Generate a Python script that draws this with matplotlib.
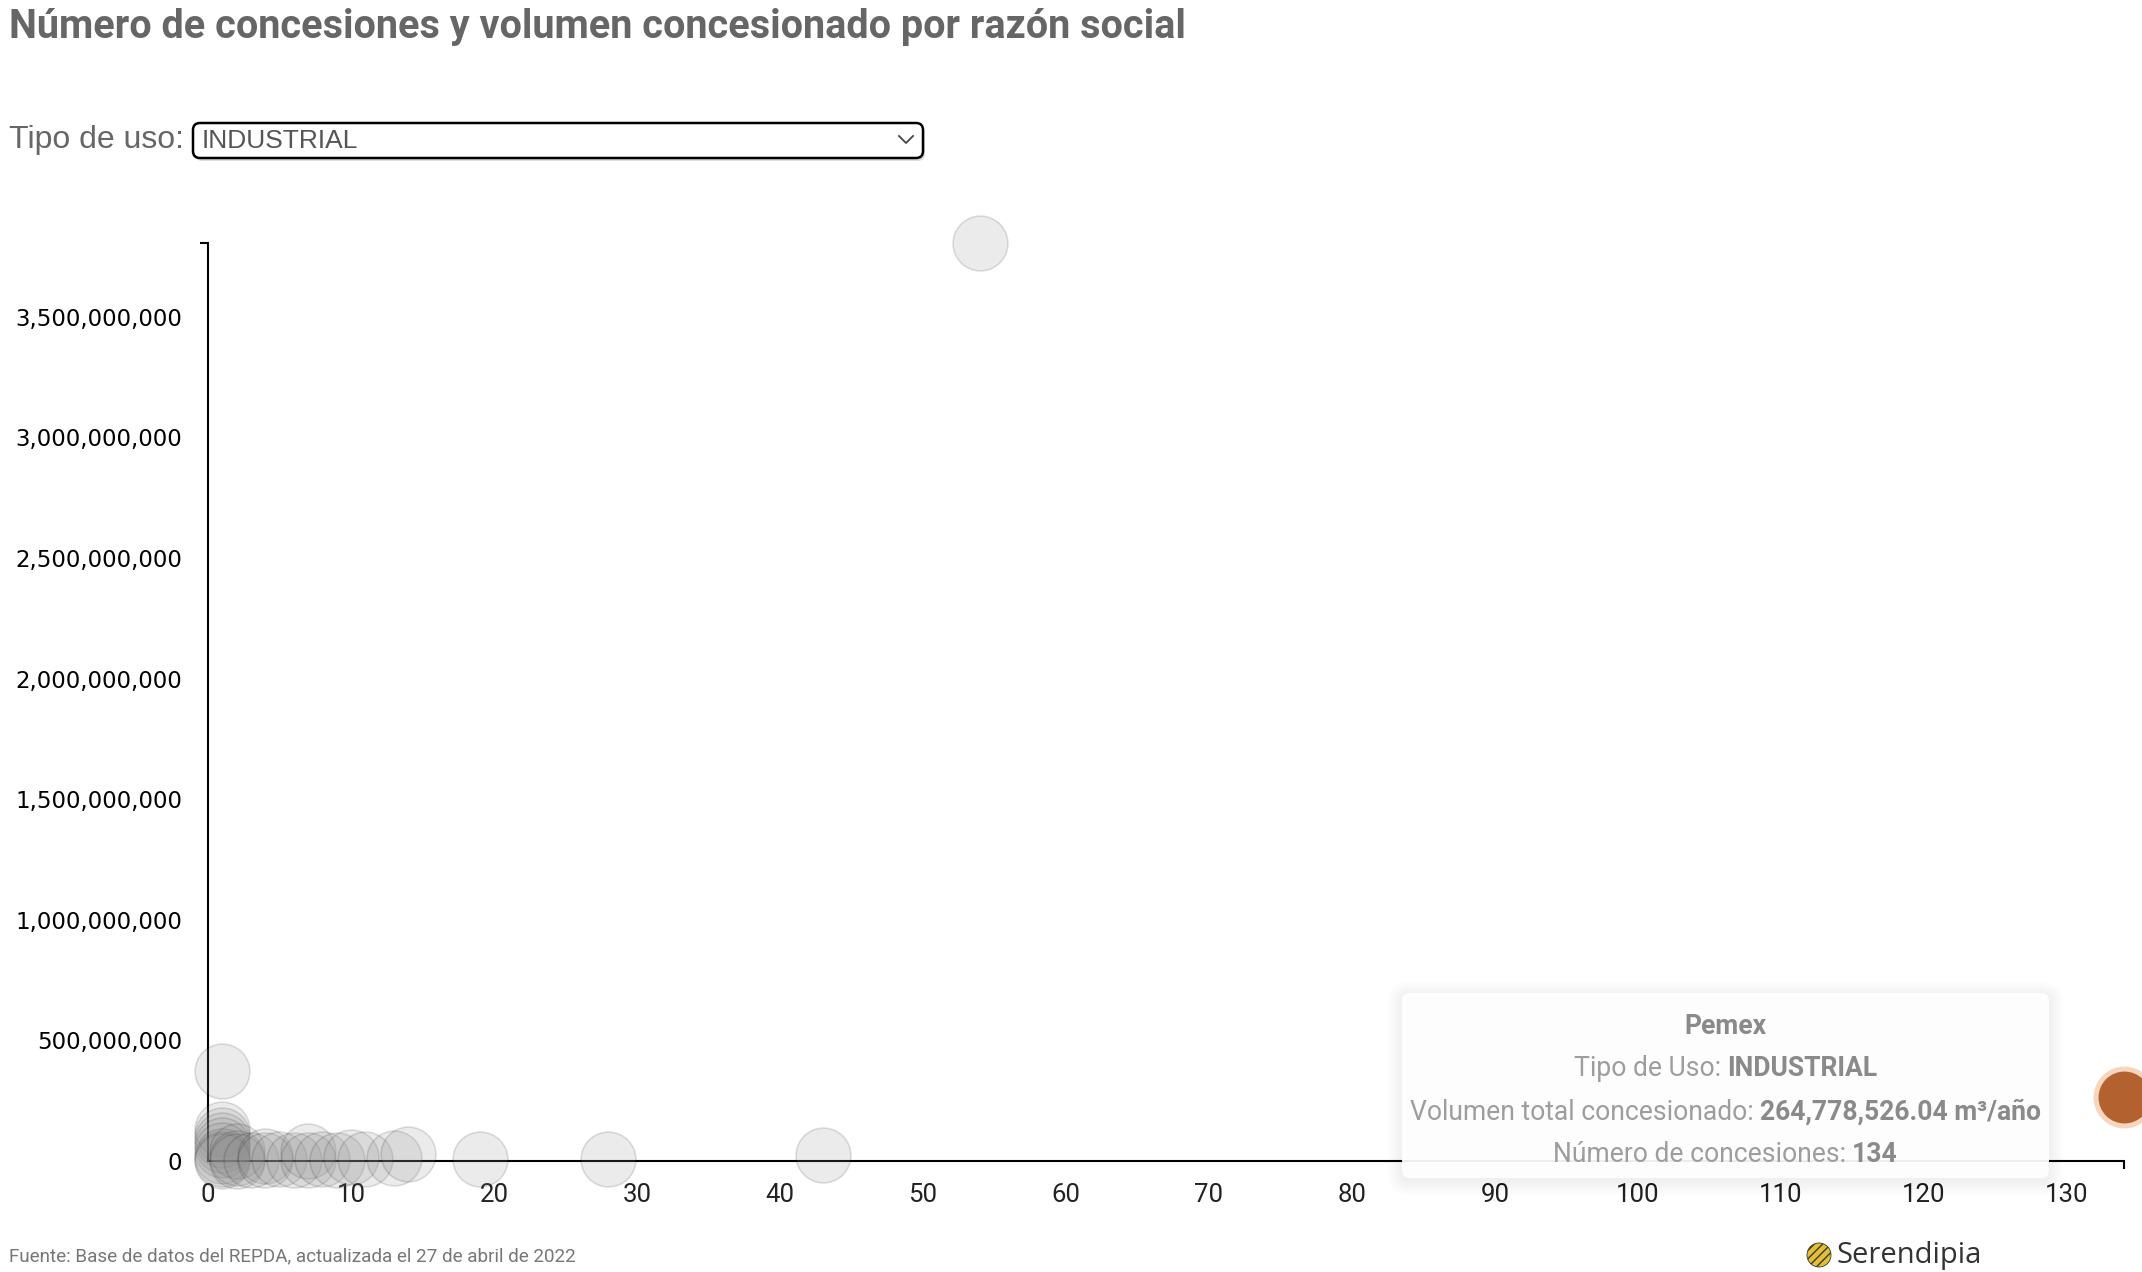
import matplotlib.pyplot as plt
from matplotlib.patches import FancyBboxPatch, Circle

W, H = 2142, 1272
DPI = 100

# ------------------------------------------------
# Data
# ------------------------------------------------
concesiones = [54, 1, 1, 1, 1, 1, 1, 1, 1, 1,
               2, 2, 2, 3, 4, 4, 5, 6, 7, 7, 8, 9,
               10, 11, 13, 14, 19, 28, 43]
volumen = [3806e6, 373e6, 131e6, 108e6, 88e6, 68e6, 45e6, 22e6, 8e6, 1e6,
           40e6, 12e6, 2e6, 6e6, 20e6, 3e6, 8e6, 4e6, 41e6, 5e6, 8e6, 3e6,
           16e6, 8e6, 14e6, 28e6, 7e6, 10e6, 25e6]

sel_nombre = "Pemex"
sel_uso = "INDUSTRIAL"
sel_concesiones = 134
sel_volumen = 264778526.04

x_ticks = [0, 10, 20, 30, 40, 50, 60, 70, 80, 90, 100, 110, 120, 130]
y_ticks = [0, 500e6, 1000e6, 1500e6, 2000e6, 2500e6, 3000e6, 3500e6]

NARROW = ["Roboto", "DejaVu Sans"]
ARIAL = ["Liberation Sans", "DejaVu Sans"]

fig = plt.figure(figsize=(W / DPI, H / DPI), dpi=DPI)

# ------------------------------------------------
# Main scatter axes
# ------------------------------------------------
ax_l, ax_r, ax_t, ax_b = 208, 2124, 243, 1161
ax = fig.add_axes([ax_l / W, 1 - ax_b / H, (ax_r - ax_l) / W, (ax_b - ax_t) / H])

xmax = max(concesiones + [sel_concesiones])
ymax = max(volumen + [sel_volumen])

ax.scatter(concesiones, volumen, s=1560, facecolor=(0.55, 0.55, 0.55, 0.17),
           edgecolor=(0, 0, 0, 0.12), linewidth=1.2, zorder=3, clip_on=False)
ax.scatter([sel_concesiones], [sel_volumen], s=1680, facecolor="#b3612f",
           edgecolor="#f7d6bf", linewidth=3.6, zorder=4, clip_on=False)

ax.set_xlim(0, xmax)
ax.set_ylim(0, ymax)

for side in ["top", "right"]:
    ax.spines[side].set_visible(False)
for side in ["left", "bottom"]:
    ax.spines[side].set_linewidth(1.5)
    ax.spines[side].set_color("black")
    ax.spines[side].set_zorder(2)

ax.set_xticks(x_ticks)
ax.set_xticklabels([str(v) for v in x_ticks], family=NARROW, fontsize=18.5, color="#222")
ax.set_yticks(y_ticks)
ax.set_yticklabels([f"{v:,.0f}" for v in y_ticks], family="DejaVu Sans", fontsize=16.5, color="black")
ax.tick_params(axis="x", which="major", length=0, pad=16)
ax.tick_params(axis="y", which="major", length=0, pad=18.5)

# end stubs of the axis lines
ax.set_xticks([0, xmax], minor=True)
ax.set_yticks([0, ymax], minor=True)
ax.tick_params(which="minor", length=6, width=1.5, color="black", direction="out")
ax.patch.set_alpha(0)

# ------------------------------------------------
# Overlay in pixel coordinates for the page elements
# ------------------------------------------------
ov = fig.add_axes([0, 0, 1, 1], zorder=10)
ov.set_xlim(0, W)
ov.set_ylim(H, 0)
ov.axis("off")
ov.patch.set_alpha(0)

ov.text(9, 27, "Número de concesiones y volumen concesionado por razón social",
        family=NARROW, fontsize=28.5, fontweight="bold", color="#666", va="center", ha="left")

# dropdown
ov.text(9, 140, "Tipo de uso:", family=ARIAL, fontsize=23, color="#666", va="center", ha="left")
ov.add_patch(FancyBboxPatch((195, 126), 730, 35, boxstyle="round,pad=0,rounding_size=7",
                            fc="#bbbbbb", ec="none", alpha=0.5))
ov.add_patch(FancyBboxPatch((193, 123), 730, 35, boxstyle="round,pad=0,rounding_size=7",
                            fc="white", ec="black", lw=1.8))
ov.text(202, 141, sel_uso, family=ARIAL, fontsize=19, color="#555", va="center", ha="left")
ov.plot([899, 906, 913], [136, 143, 136], color="#444", lw=1.3)

# tooltip with soft shadow
tx0, ty0, tx1, ty1 = 1402, 993, 2049, 1178
for k in range(1, 16):
    ov.add_patch(FancyBboxPatch((tx0 - k, ty0 - k + 3), tx1 - tx0 + 2 * k, ty1 - ty0 + 2 * k,
                                boxstyle=f"round,pad=0,rounding_size={8 + k}",
                                fc="black", ec="none", alpha=0.005))
ov.add_patch(FancyBboxPatch((tx0, ty0), tx1 - tx0, ty1 - ty0,
                            boxstyle="round,pad=0,rounding_size=8",
                            fc="white", ec="none", alpha=0.93))

cx = (tx0 + tx1) / 2
lines = [
    ("", sel_nombre, 1026),
    ("Tipo de Uso:", sel_uso, 1069),
    ("Volumen total concesionado:", f"{sel_volumen:,.2f} m³/año", 1112),
    ("Número de concesiones:", f"{sel_concesiones}", 1154),
]
tip_fs = 19.1
fig.canvas.draw()
renderer = fig.canvas.get_renderer()
for normal, bold, y in lines:
    t1 = ov.text(0, y, normal, family=NARROW, fontsize=tip_fs, color="#9d9d9d",
                 va="center", ha="left")
    t2 = ov.text(0, y, bold, family=NARROW, fontsize=tip_fs, fontweight="bold", color="#8a8a8a",
                 va="center", ha="left")
    w1 = t1.get_window_extent(renderer).width if normal else 0
    w2 = t2.get_window_extent(renderer).width
    gap = 6 if normal else 0
    left = cx - (w1 + gap + w2) / 2
    t1.set_x(left)
    t2.set_x(left + w1 + gap)

# footer
ov.text(9, 1256, "Fuente: Base de datos del REPDA, actualizada el 27 de abril de 2022",
        family=NARROW, fontsize=13.6, color="#777", va="center", ha="left")
ov.add_patch(Circle((1819, 1255), 12, fc="#e2bf35", ec="#3a3a2a", lw=0.6, hatch="////"))
ov.text(1836, 1256, "Serendipia", family=["Open Sans", "DejaVu Sans"], fontsize=21,
        color="#333", va="center", ha="left")

fig.savefig("out.png", dpi=DPI)
